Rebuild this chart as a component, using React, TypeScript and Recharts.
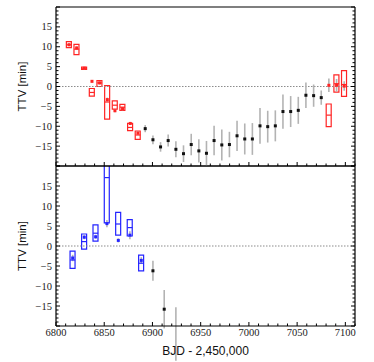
import React from 'react';
import { ComposedChart, Scatter, Bar, ErrorBar, XAxis, YAxis, ReferenceLine } from 'recharts';

const RED = '#ff2424';
const BLUE = '#2424ff';
const BLACK = '#111111';
const GREY = '#b3b3b3';

// upper panel, black points (no model box)
const topX = [6892.5, 6900.5, 6908.4, 6916.3, 6924.3, 6932.2, 6940.2, 6948.1, 6956.0, 6963.9, 6971.9, 6979.8,
  6987.7, 6995.7, 7003.6, 7011.5, 7019.5, 7027.4, 7035.3, 7043.3, 7051.2, 7059.1, 7067.1, 7075.0];
const topY = [-10.6, -13.4, -15.2, -13.6, -15.8, -16.9, -14.6, -16.2, -16.8, -13.6, -14.7, -14.6,
  -12.4, -13.2, -13.2, -9.9, -10.1, -9.9, -6.3, -6.3, -6.0, -2.2, -2.3, -2.8];
const topErr = [0.9, 1.1, 1.2, 1.5, 2.0, 2.1, 2.7, 2.9, 3.1, 3.7, 3.9, 3.2,
  3.8, 3.9, 4.0, 4.5, 4.0, 3.9, 4.3, 3.9, 3.4, 3.2, 2.8, 1.8];

// upper panel, red points with model boxes
const redX = [6813.5, 6821.4, 6829.3, 6837.3, 6845.2, 6853.2, 6861.1, 6869.0, 6877.0, 6884.9, 7082.9, 7090.9, 7098.8];
const redY = [10.5, 9.7, 4.6, 1.3, 0.9, -3.3, -6.1, -5.6, -9.3, -11.7, 0.3, 0.3, 0.1];
const redErr = [0.4, 0.4, 0.3, 0.3, 0.4, 0.5, 0.4, 0.4, 0.4, 0.5, 1.7, 1.6, 1.2];
const redLo = [9.8, 8.0, 4.3, -2.4, 0.0, -8.2, -5.7, -6.0, -11.1, -13.3, -10.1, -1.4, -2.5];
const redHi = [11.3, 10.6, 4.9, -0.5, 1.5, 0.2, -3.6, -4.5, -9.3, -11.2, -4.4, 2.9, 4.0];
const redMed = [10.5, 9.4, 4.6, -1.5, 0.9, -3.9, -4.7, -5.2, -10.3, -12.2, -7.2, 0.7, 0.5];

// lower panel, blue points with model boxes
const blueX = [6817.3, 6829.3, 6841.1, 6852.8, 6864.6, 6876.6, 6888.4];
const blueY = [-3.0, 2.2, 2.3, 5.6, 1.4, 2.7, -3.6];
const blueErr = [0.8, 0.5, 0.5, 0.9, 0.5, 1.0, 0.8];
const blueLo = [-5.6, -0.8, 1.2, 5.8, 2.7, 2.5, -6.2];
const blueHi = [-1.3, 3.0, 5.3, 24.0, 8.4, 6.6, -2.3];
const blueMed = [-3.5, 1.1, 3.2, 17.1, 5.5, 4.6, -4.3];

// lower panel, black points
const botX = [6900.5, 6912.2, 6924.3];
const botY = [-6.2, -15.8, -22.0];
const botErr = [2.5, 4.8, 6.7];

const xMajor = [6800, 6850, 6900, 6950, 7000, 7050, 7100];
const yMajor = [-15, -10, -5, 0, 5, 10, 15];
const xTicks = Array.from({ length: 32 }, (_, i) => 6800 + i * 10);
const yTicks = Array.from({ length: 41 }, (_, i) => -20 + i);

const pts = (xs: number[], ys: number[], es: number[]) => xs.map((x, i) => ({ x, y: ys[i], err: es[i] }));
const meds = (xs: number[], ms: number[]) => xs.map((x, i) => ({ x, y: ms[i] }));
const boxes = (xs: number[], lo: number[], hi: number[]) => xs.map((x, i) => ({ x, box: [lo[i], hi[i]] }));

const tickFont = '"Liberation Serif", "DejaVu Serif", serif';
const labelFont = '"Liberation Sans", Arial, sans-serif';

const fmt = (v: number) => (v < 0 ? `\u2212${-v}` : `${v}`);

const XTick = (p: any) => {
  const v = p.payload.value;
  const major = xMajor.includes(v);
  const len = major ? 4 : 2.5;
  const dir = p.side === 'bottom' ? -1 : 1;
  return (
    <g>
      <line x1={p.x} y1={p.y} x2={p.x} y2={p.y + dir * len} stroke="#000" strokeWidth={1} />
      {p.labels && major && (
        <text x={p.x} y={p.y + 10} textAnchor="middle" fontSize={10.5} fontFamily={tickFont} fill="#222">{v}</text>
      )}
    </g>
  );
};

const YTick = (p: any) => {
  const v = p.payload.value;
  const major = v % 5 === 0;
  const len = major ? 4 : 2.5;
  const dir = p.side === 'left' ? 1 : -1;
  return (
    <g>
      <line x1={p.x} y1={p.y} x2={p.x + dir * len} y2={p.y} stroke="#000" strokeWidth={1} />
      {p.side === 'left' && yMajor.includes(v) && (
        <text x={p.x - 4} y={p.y + 3.5} textAnchor="end" fontSize={10.5} fontFamily={tickFont} fill="#222">{fmt(v)}</text>
      )}
    </g>
  );
};

const TTVLabel = (p: any) => {
  const vb = p.viewBox || { x: 0, y: 0, width: 0, height: 0 };
  const cx = vb.x + 22;
  const cy = vb.y + vb.height / 2;
  return (
    <text x={cx} y={cy} transform={`rotate(-90 ${cx} ${cy})`} textAnchor="middle" dominantBaseline="central"
      fontSize={11.5} fontFamily={labelFont} fill="#111">TTV [min]</text>
  );
};

const BJDLabel = (p: any) => {
  const vb = p.viewBox || { x: 0, y: 0, width: 0, height: 0 };
  return (
    <text x={vb.x + vb.width / 2} y={vb.y + 29} textAnchor="middle" fontSize={12} fontFamily={labelFont} fill="#111">
      BJD - 2,450,000
    </text>
  );
};

const dotShape = (color: string) => (p: any) => (
  <rect x={p.cx - 1.5} y={p.cy - 1.5} width={3} height={3} fill={color} />
);
const medShape = (color: string) => (p: any) => (
  <line x1={p.cx - 2.5} x2={p.cx + 2.5} y1={p.cy} y2={p.cy} stroke={color} strokeWidth={1.2} />
);

type PanelProps = {
  height: number;
  margin: { top: number; right: number; bottom: number; left: number };
  boxData: any[];
  boxColor: string;
  colorPts: any[];
  medPts: any[];
  blackPts: any[];
  bottom: boolean;
};

const frame = { stroke: '#000', strokeWidth: 1.2, ifOverflow: 'visible' as const };

const Panel = ({ height, margin, boxData, boxColor, colorPts, medPts, blackPts, bottom }: PanelProps) => (
  <ComposedChart width={374} height={height} data={boxData} margin={margin}>
    <XAxis type="number" dataKey="x" domain={[6800, 7110]} allowDataOverflow ticks={xTicks} interval={0}
      tickSize={0} tickMargin={0} tickLine={false} axisLine={false}
      height={bottom ? 36 : 1} tick={<XTick side="bottom" labels={bottom} />}
      label={bottom ? <BJDLabel /> : undefined} />
    <XAxis xAxisId="t" orientation="top" type="number" domain={[6800, 7110]} allowDataOverflow ticks={xTicks}
      interval={0} tickSize={0} tickMargin={0} tickLine={false} axisLine={false}
      height={1} tick={<XTick side="top" />} />
    <YAxis type="number" dataKey="y" domain={[-20, 20]} allowDataOverflow ticks={yTicks} interval={0}
      tickSize={0} tickMargin={0} tickLine={false} axisLine={false}
      width={56} tick={<YTick side="left" />} label={<TTVLabel />} />
    <YAxis yAxisId="r" orientation="right" type="number" domain={[-20, 20]} allowDataOverflow ticks={yTicks}
      interval={0} tickSize={0} tickMargin={0} tickLine={false} axisLine={false}
      width={1} tick={<YTick side="right" />} />
    <ReferenceLine y={0} stroke="#8c8c8c" strokeDasharray="1.5 1.5" strokeWidth={1.2} />
    <Scatter data={blackPts} dataKey="y" isAnimationActive={false} shape={dotShape(BLACK)}>
      <ErrorBar dataKey="err" direction="y" width={0} stroke={GREY} strokeWidth={1.6} />
    </Scatter>
    <Scatter data={colorPts} dataKey="y" isAnimationActive={false} shape={dotShape(boxColor)}>
      <ErrorBar dataKey="err" direction="y" width={0} stroke={GREY} strokeWidth={1.6} />
    </Scatter>
    <Bar dataKey="box" barSize={5} fill="none" stroke={boxColor} strokeWidth={1.2} isAnimationActive={false} />
    <Scatter data={medPts} dataKey="y" isAnimationActive={false} shape={medShape(boxColor)} />
    <ReferenceLine x={6800} {...frame} />
    <ReferenceLine x={7110} {...frame} />
    <ReferenceLine y={20} {...frame} />
    <ReferenceLine y={-20} {...frame} />
  </ComposedChart>
);

export default function App() {
  return (
    <div style={{ position: 'absolute', left: 0, top: 0, width: 374, height: 362, background: '#fff' }}>
      <div style={{ position: 'absolute', left: 0, top: 160 }}>
        <Panel height={202} margin={{ top: 5, right: 18, bottom: 0, left: 0 }}
          boxData={boxes(blueX, blueLo, blueHi)} boxColor={BLUE}
          colorPts={pts(blueX, blueY, blueErr)} medPts={meds(blueX, blueMed)}
          blackPts={pts(botX, botY, botErr)} bottom />
      </div>
      <div style={{ position: 'absolute', left: 0, top: 0 }}>
        <Panel height={172} margin={{ top: 6, right: 18, bottom: 5, left: 0 }}
          boxData={boxes(redX, redLo, redHi)} boxColor={RED}
          colorPts={pts(redX, redY, redErr)} medPts={meds(redX, redMed)}
          blackPts={pts(topX, topY, topErr)} bottom={false} />
      </div>
    </div>
  );
}
